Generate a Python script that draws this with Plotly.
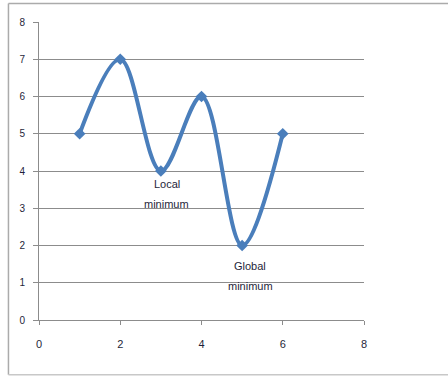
import plotly.graph_objects as go

# Series values
x_vals = [1, 2, 3, 4, 5, 6]
y_vals = [5, 7, 4, 6, 2, 5]

# Callout labels (one entry per line) and where they sit
note_lines = [["Local", "minimum"], ["Global", "minimum"]]
note_x = [3.15, 5.2]
note_y = [3.38, 1.18]

tick_vals = list(range(0, 9, 2))
ytick_vals = list(range(0, 9))

line_color = "#4A7EBB"
grid_color = "#8C8C8C"
text_color = "#1F1F3A"
font_family = "Liberation Sans, Arial, sans-serif"
line_gap = 20  # pixels between the two lines of a callout

fig = go.Figure()
fig.add_trace(go.Scatter(
    x=x_vals, y=y_vals,
    mode="lines+markers",
    line=dict(color=line_color, width=4, shape="spline", smoothing=1.0),
    marker=dict(symbol="diamond", size=9, color=line_color),
    showlegend=False,
    hoverinfo="skip",
))

for lines, xx, yy in zip(note_lines, note_x, note_y):
    n = len(lines)
    for i, t in enumerate(lines):
        fig.add_annotation(
            x=xx, y=yy, text=t, showarrow=False,
            yshift=((n - 1) / 2 - i) * line_gap,
            font=dict(family=font_family, size=11, color=text_color),
            align="center",
        )

# Chart-area frame (left, top and bottom edges)
fig.add_shape(type="line", xref="paper", yref="paper",
              x0=-0.094, x1=-0.094, y0=-0.184, y1=1.062,
              line=dict(color="#ABABAB", width=1.5))
fig.add_shape(type="line", xref="paper", yref="paper",
              x0=-0.094, x1=1.3, y0=1.062, y1=1.062,
              line=dict(color="#ABABAB", width=1.5))
fig.add_shape(type="line", xref="paper", yref="paper",
              x0=-0.094, x1=1.3, y0=-0.184, y1=-0.184,
              line=dict(color="#C8C8C8", width=1.5))

fig.update_layout(
    width=448, height=376,
    margin=dict(l=39, r=84, t=22, b=56),
    paper_bgcolor="white",
    plot_bgcolor="white",
    font=dict(family=font_family, size=10, color=text_color),
    xaxis=dict(
        range=[0, 8], tickvals=tick_vals, showgrid=False, zeroline=False,
        showline=True, linecolor=grid_color, linewidth=1,
        ticks="outside", ticklen=4, tickcolor=grid_color,
        tickfont=dict(size=11, color=text_color), ticklabelstandoff=10,
    ),
    yaxis=dict(
        range=[0, 8], tickvals=ytick_vals, showgrid=True, gridcolor=grid_color,
        gridwidth=1, zeroline=False,
        showline=True, linecolor=grid_color, linewidth=1,
        ticks="outside", ticklen=5, tickcolor=grid_color,
        tickfont=dict(size=10, color=text_color), ticklabelstandoff=6,
    ),
)

fig.write_html("out.html")
